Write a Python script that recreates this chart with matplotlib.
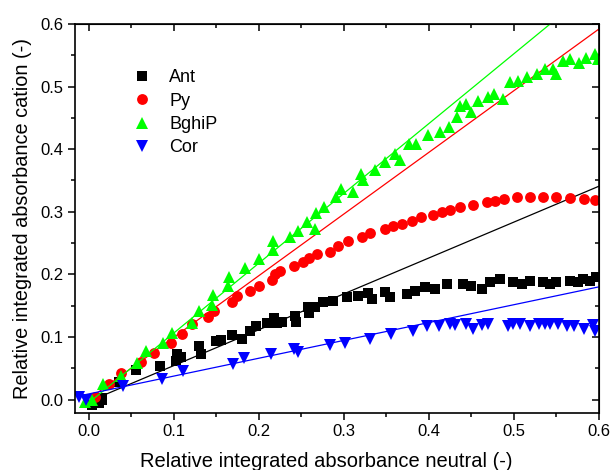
import numpy as np
import matplotlib
matplotlib.use("Agg")
import matplotlib.pyplot as plt
from matplotlib.ticker import MultipleLocator

plt.rcParams['font.family'] = ['Liberation Sans', 'DejaVu Sans']

# Ant (black squares)
ant_x = [0.004, 0.012, 0.015, 0.015, 0.035, 0.055, 0.084, 0.102, 0.104, 0.108, 0.13, 0.132,
         0.15, 0.155, 0.168, 0.18, 0.19, 0.197, 0.209, 0.218, 0.221, 0.227, 0.242, 0.244,
         0.258, 0.259, 0.266, 0.275, 0.287, 0.303, 0.316, 0.328, 0.333, 0.348, 0.354, 0.374,
         0.384, 0.395, 0.407, 0.421, 0.44, 0.45, 0.462, 0.472, 0.484, 0.499, 0.51, 0.519,
         0.534, 0.542, 0.55, 0.566, 0.575, 0.581, 0.59, 0.597]
ant_y = [-0.009, -0.006, -0.001, 0.003, 0.028, 0.047, 0.054, 0.062, 0.072, 0.068, 0.085, 0.072,
         0.093, 0.095, 0.103, 0.096, 0.109, 0.118, 0.122, 0.13, 0.122, 0.124, 0.134, 0.124,
         0.148, 0.138, 0.148, 0.156, 0.158, 0.164, 0.166, 0.170, 0.161, 0.172, 0.164, 0.169,
         0.174, 0.18, 0.177, 0.185, 0.185, 0.182, 0.177, 0.188, 0.193, 0.188, 0.185, 0.19,
         0.188, 0.185, 0.188, 0.19, 0.187, 0.193, 0.19, 0.196]

# Py (red circles)
py_x = [0.007, 0.023, 0.038, 0.061, 0.077, 0.097, 0.11, 0.121, 0.14, 0.147, 0.168, 0.174,
        0.189, 0.2, 0.215, 0.219, 0.225, 0.241, 0.252, 0.259, 0.268, 0.284, 0.293, 0.305,
        0.321, 0.331, 0.348, 0.358, 0.368, 0.38, 0.391, 0.405, 0.415, 0.425, 0.436, 0.452,
        0.468, 0.478, 0.488, 0.503, 0.519, 0.534, 0.55, 0.566, 0.582, 0.595]
py_y = [0.004, 0.024, 0.042, 0.06, 0.074, 0.09, 0.104, 0.12, 0.132, 0.142, 0.155, 0.166,
        0.173, 0.182, 0.191, 0.2, 0.206, 0.213, 0.219, 0.226, 0.232, 0.235, 0.246, 0.254,
        0.259, 0.266, 0.273, 0.278, 0.281, 0.286, 0.291, 0.295, 0.299, 0.302, 0.308, 0.311,
        0.315, 0.317, 0.32, 0.323, 0.324, 0.324, 0.323, 0.322, 0.32, 0.318]

# BghiP (green triangles)
bghip_x = [-0.005, 0.003, 0.017, 0.038, 0.056, 0.067, 0.087, 0.098, 0.121, 0.13, 0.145, 0.146,
           0.163, 0.165, 0.184, 0.2, 0.216, 0.217, 0.236, 0.246, 0.256, 0.266, 0.267, 0.276,
           0.291, 0.297, 0.311, 0.32, 0.322, 0.336, 0.348, 0.36, 0.366, 0.376, 0.385, 0.399,
           0.413, 0.423, 0.433, 0.436, 0.444, 0.45, 0.458, 0.47, 0.476, 0.487, 0.495, 0.505,
           0.515, 0.527, 0.536, 0.546, 0.55, 0.558, 0.566, 0.576, 0.585, 0.595, 0.599]
bghip_y = [-0.004, 0.0, 0.024, 0.037, 0.058, 0.077, 0.091, 0.106, 0.122, 0.142, 0.151, 0.167,
           0.182, 0.196, 0.21, 0.224, 0.239, 0.254, 0.259, 0.27, 0.283, 0.273, 0.298, 0.307,
           0.323, 0.336, 0.331, 0.36, 0.35, 0.366, 0.379, 0.392, 0.382, 0.408, 0.408, 0.422,
           0.427, 0.435, 0.451, 0.469, 0.472, 0.459, 0.477, 0.483, 0.488, 0.48, 0.507, 0.509,
           0.515, 0.52, 0.528, 0.528, 0.52, 0.541, 0.544, 0.538, 0.546, 0.552, 0.544]

# Cor (blue down-triangles)
cor_x = [-0.012, -0.004, 0.04, 0.086, 0.111, 0.17, 0.182, 0.214, 0.241, 0.246, 0.283, 0.301,
         0.331, 0.355, 0.381, 0.398, 0.412, 0.425, 0.431, 0.444, 0.452, 0.462, 0.47, 0.493,
         0.499, 0.507, 0.519, 0.529, 0.536, 0.542, 0.552, 0.562, 0.571, 0.582, 0.593, 0.595]
cor_y = [0.004, -0.001, 0.021, 0.032, 0.045, 0.056, 0.066, 0.072, 0.081, 0.076, 0.087, 0.09,
         0.097, 0.104, 0.109, 0.117, 0.117, 0.12, 0.119, 0.12, 0.113, 0.119, 0.121, 0.118,
         0.12, 0.12, 0.117, 0.12, 0.12, 0.12, 0.12, 0.117, 0.117, 0.113, 0.119, 0.11]

# linear fits (slope, intercept) drawn as thin lines
fit_slope = [0.573, 0.985, 1.115, 0.285]
fit_icpt = [-0.003, 0.001, -0.005, 0.009]

names = ["Ant", "Py", "BghiP", "Cor"]
colors = ["black", "red", "#00ff00", "blue"]
markers = ["s", "o", "^", "v"]
sizes = [7, 7.8, 8.8, 8.8]
xs = [ant_x, py_x, bghip_x, cor_x]
ys = [ant_y, py_y, bghip_y, cor_y]

fig = plt.figure(figsize=(6.11, 4.70), dpi=100)
ax = fig.add_axes([0.1227, 0.122, 0.8576, 0.827])

for i in range(4):
    ax.plot(xs[i], ys[i], linestyle="none", marker=markers[i], color=colors[i],
            markersize=sizes[i], markeredgewidth=0, label=names[i])
    lx = np.array([min(xs[i]), 0.6])
    ax.plot(lx, fit_slope[i] * lx + fit_icpt[i], color=colors[i], linewidth=0.9)

ax.set_xlim(-0.0165, 0.6)
ax.set_ylim(-0.021, 0.6)
ax.xaxis.set_major_locator(MultipleLocator(0.1))
ax.xaxis.set_minor_locator(MultipleLocator(0.05))
ax.yaxis.set_major_locator(MultipleLocator(0.1))
ax.yaxis.set_minor_locator(MultipleLocator(0.05))
ax.xaxis.set_major_formatter(lambda v, p: f"{v:.1f}")
ax.yaxis.set_major_formatter(lambda v, p: f"{v:.1f}")
ax.tick_params(which="major", direction="out", length=5, width=1.1, labelsize=12)
ax.tick_params(which="minor", direction="out", length=3, width=1.1)
for s in ax.spines.values():
    s.set_linewidth(1.2)

# mirrored ticks on top and right pointing inward
top = ax.secondary_xaxis("top")
top.xaxis.set_major_locator(MultipleLocator(0.1))
top.xaxis.set_minor_locator(MultipleLocator(0.05))
top.tick_params(which="both", direction="in", labeltop=False, width=1.1)
top.tick_params(which="major", length=5)
top.tick_params(which="minor", length=3)
right = ax.secondary_yaxis("right")
right.yaxis.set_major_locator(MultipleLocator(0.1))
right.yaxis.set_minor_locator(MultipleLocator(0.05))
right.tick_params(which="both", direction="in", labelright=False, width=1.1)
right.tick_params(which="major", length=5)
right.tick_params(which="minor", length=3)

ax.set_xlabel("Relative integrated absorbance neutral (-)", fontsize=14.5)
ax.xaxis.set_label_coords(0.48, -0.1)
ax.set_ylabel("Relative integrated absorbance cation (-)", fontsize=14.3, labelpad=6)

handles, labels = ax.get_legend_handles_labels()
ax.legend(handles, labels, loc="upper left", bbox_to_anchor=(0.08, 0.925), frameon=False,
          fontsize=13, handletextpad=1.0, labelspacing=0.35, handlelength=1.0)

fig.savefig("out.png", dpi=100)
